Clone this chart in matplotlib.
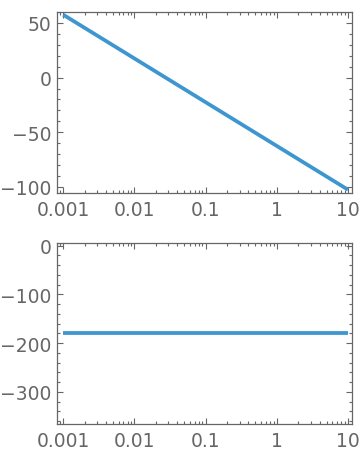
import numpy as np
import matplotlib.pyplot as plt
from matplotlib.ticker import FixedLocator, MultipleLocator, LogLocator, NullFormatter

# Bode data: magnitude (dB) and phase (deg) vs frequency
freq = [0.001, 0.01, 0.1, 1, 10]
mag_db = [57.5, 17.5, -22.5, -62.5, -102.5]
phase_deg = [-180, -180, -180, -180, -180]

x_ticks = [0.001, 0.01, 0.1, 1, 10]
x_labels = ['0.001', '0.01', '0.1', '1', '10']

LINE = '#3d96cf'
GREY = '#666666'

plt.rcParams.update({
    'font.family': 'DejaVu Sans',
    'font.size': 13.5,
    'axes.edgecolor': GREY,
    'axes.linewidth': 0.9,
    'xtick.color': GREY,
    'ytick.color': GREY,
    'xtick.labelcolor': GREY,
    'ytick.labelcolor': GREY,
})

fig = plt.figure(figsize=(3.6, 4.56), dpi=100)
ax1 = fig.add_axes([57 / 360, 1 - 194 / 456, 295 / 360, 181 / 456])
ax2 = fig.add_axes([57 / 360, 1 - 425 / 456, 295 / 360, 181 / 456])


def style(ax, major, minor):
    ax.set_xscale('log')
    ax.set_xlim(10 ** -3.088, 10 ** 1.056)
    ax.xaxis.set_major_locator(FixedLocator(x_ticks))
    ax.set_xticklabels(x_labels)
    ax.xaxis.set_minor_locator(LogLocator(base=10, subs=np.arange(2, 10)))
    ax.xaxis.set_minor_formatter(NullFormatter())
    ax.yaxis.set_major_locator(MultipleLocator(major))
    ax.yaxis.set_minor_locator(MultipleLocator(minor))
    ax.tick_params(which='both', direction='in', top=True, right=True,
                   color=GREY, width=0.8)
    ax.tick_params(which='major', length=4.5)
    ax.tick_params(which='minor', length=2.5)
    ax.tick_params(axis='x', which='major', pad=5)
    ax.tick_params(axis='y', which='major', pad=4)


ax1.plot(freq, mag_db, color=LINE, lw=2.7, solid_capstyle='butt')
style(ax1, 50, 10)
ax1.set_ylim(-105.5, 60)
ax1.set_yticks([50, 0, -50, -100])
ax1.set_yticklabels(['50', '0', '\u221250', '\u2212100'])

ax2.plot(freq, phase_deg, color=LINE, lw=2.7, solid_capstyle='butt')
style(ax2, 100, 20)
ax2.set_ylim(-366, 5.5)
ax2.set_yticks([0, -100, -200, -300])
ax2.set_yticklabels(['0', '\u2212100', '\u2212200', '\u2212300'])

fig.savefig('out.png', dpi=100)
